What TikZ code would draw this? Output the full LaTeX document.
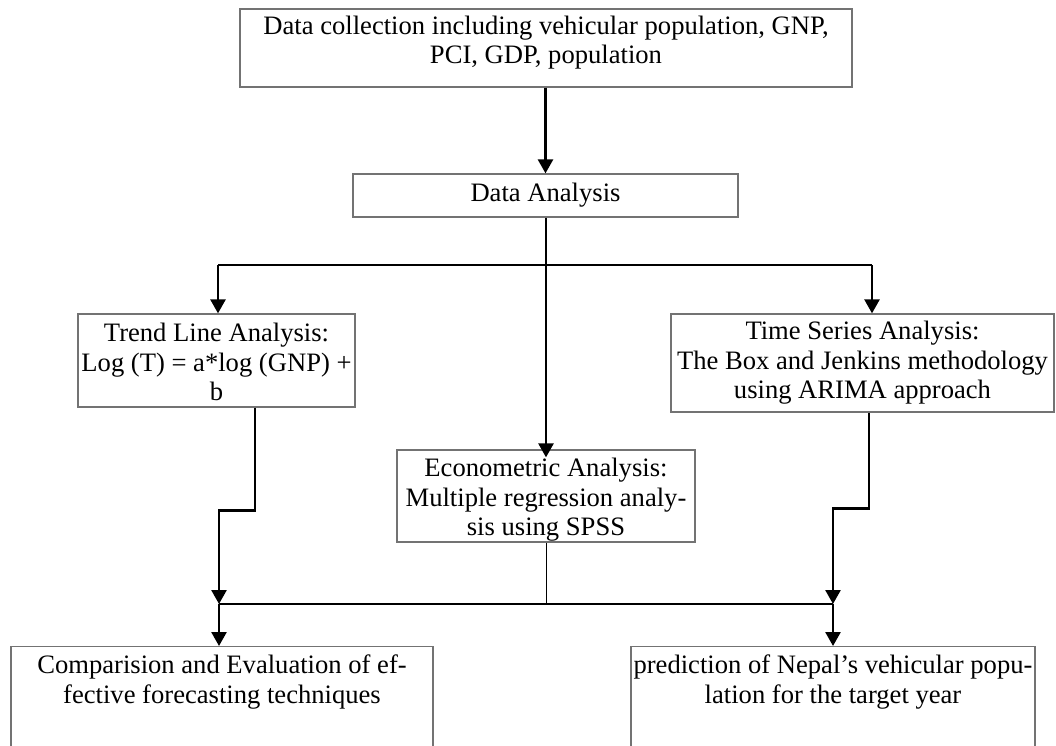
\documentclass[tikz,border=0pt]{standalone}
\usepackage{fontspec}
\setmainfont{Liberation Serif}
\usetikzlibrary{arrows.meta}
\tikzset{
  box/.style={draw=black!55, line width=1.3pt, inner sep=0pt, fill=none},
  txt/.style={align=center, inner sep=0pt, font=\fontsize{26.6}{29.5}\selectfont},
  conn/.style={draw=black, line width=2.6pt},
  arr/.style={conn, -{Triangle[width=15pt,length=14pt]}},
  thinconn/.style={draw=black, line width=0.9pt}
}
\begin{document}
\begin{tikzpicture}[x=1pt,y=-1pt]
\useasboundingbox (0,0) rectangle (1056,745);
\clip (0,0) rectangle (1056,745);
% boxes
\node[box, minimum width=612pt, minimum height=78pt] (top) at (546,48) {};
\node[txt] (toptxt) at (546,42.5) {Data collection including vehicular population, GNP,\\PCI, GDP, population};
\node[box, minimum width=385pt, minimum height=43pt] (da) at (545.5,195.5) {};
\node[txt] (datxt) at (545.5,195) {Data Analysis};
\node[box, minimum width=277pt, minimum height=93pt] (trend) at (216.5,360.5) {};
\node[txt] (trendtxt) at (216.5,362) {Trend Line Analysis:\\Log (T) = a*log (GNP) +\\b};
\node[box, minimum width=383pt, minimum height=98pt] (ts) at (862.5,363) {};
\node[txt] (tstxt) at (862.5,363) {Time Series Analysis:\\The Box and Jenkins methodology\\using ARIMA approach};
\node[box, minimum width=298pt, minimum height=92pt] (eco) at (546,496) {};
\node[txt] (ecotxt) at (546,500) {Econometric Analysis:\\Multiple regression analy-\\sis using SPSS};
\node[box, minimum width=422pt, minimum height=200pt, anchor=north] (bl) at (222,646) {};
\node[txt] (bltxt) at (222,682) {Comparision and Evaluation of ef-\\fective forecasting techniques};
\node[box, minimum width=404pt, minimum height=200pt, anchor=north] (br) at (833,646) {};
\node[txt] (brtxt) at (833,682) {prediction of Nepal's vehicular popu-\\lation for the target year};
% junctions
\coordinate (b1) at (218,265);
\coordinate (b2) at (872,265);
\coordinate (j1) at (219,604);
\coordinate (j2) at (833,604);
% connectors
\draw[arr] (top.south -| da.north) -- (da.north);
\draw[conn] (b1) -- (b2);
\draw[arr] (b1) -- (b1 |- trend.north);
\draw[arr] (b2) -- (b2 |- ts.north);
\draw[arr, shorten >=-8pt] (da.south -| eco.north) -- (eco.north);
\draw[arr] ([xshift=38.5pt]trend.south) -- ++(0,103) -| (j1);
\draw[arr] ([xshift=6.5pt]ts.south) -- ++(0,96) -| (j2);
\draw[conn] (j1) -- (j2);
\draw[thinconn] (eco.south) -- (eco.south |- j1);
\draw[arr] (j1) -- (j1 |- bl.north);
\draw[arr] (j2) -- (j2 |- br.north);
\end{tikzpicture}
\end{document}
